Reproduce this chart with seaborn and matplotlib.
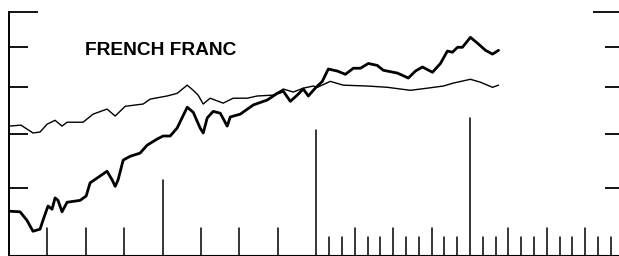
import numpy as np
import pandas as pd
import matplotlib
matplotlib.use("Agg")
import matplotlib.pyplot as plt
import seaborn as sns

# time in years from the left edge of the chart, values on a ratio scale
thick_t = [0.0, 0.072, 0.117, 0.156, 0.202, 0.221, 0.254, 0.280, 0.300, 0.319,
           0.345, 0.378, 0.463, 0.502, 0.528, 0.573, 0.638, 0.671, 0.691, 0.710,
           0.743, 0.788, 0.853, 0.899, 0.964, 1.003, 1.049, 1.094, 1.160, 1.199,
           1.244, 1.264, 1.290, 1.329, 1.375, 1.420, 1.440, 1.505, 1.590, 1.681,
           1.746, 1.785, 1.831, 1.876, 1.915, 1.948, 1.993, 2.039, 2.078, 2.137,
           2.189, 2.241, 2.287, 2.339, 2.397, 2.436, 2.528, 2.599, 2.645, 2.691,
           2.756, 2.808, 2.853, 2.886, 2.919, 2.951, 3.003, 3.049, 3.101, 3.147,
           3.186]
thick_v = [4.63, 4.62, 4.49, 4.33, 4.36, 4.49, 4.71, 4.66, 4.84, 4.80,
           4.62, 4.77, 4.80, 4.87, 5.09, 5.17, 5.29, 5.14, 5.03, 5.14,
           5.49, 5.56, 5.62, 5.77, 5.89, 5.95, 5.95, 6.11, 6.55, 6.44,
           6.11, 6.01, 6.32, 6.46, 6.42, 6.15, 6.34, 6.40, 6.60, 6.71,
           6.86, 6.91, 6.68, 6.82, 6.96, 6.80, 6.98, 7.14, 7.44, 7.39,
           7.31, 7.46, 7.46, 7.58, 7.53, 7.41, 7.34, 7.22, 7.39, 7.49,
           7.36, 7.58, 7.90, 7.87, 8.00, 8.00, 8.27, 8.11, 7.92, 7.82,
           7.92]

thin_t = [0.0, 0.078, 0.156, 0.202, 0.248, 0.300, 0.345, 0.378, 0.482, 0.547,
          0.638, 0.691, 0.756, 0.873, 0.919, 1.029, 1.094, 1.160, 1.199, 1.231,
          1.264, 1.309, 1.394, 1.459, 1.550, 1.616, 1.720, 1.785, 1.850, 1.915,
          1.980, 2.007, 2.091, 2.176, 2.332, 2.463, 2.612, 2.723, 2.827, 2.893,
          3.003, 3.068, 3.147, 3.186]
thin_v = [6.15, 6.17, 6.01, 6.03, 6.19, 6.27, 6.15, 6.23, 6.23, 6.40,
          6.51, 6.36, 6.57, 6.62, 6.73, 6.80, 6.86, 7.05, 6.93, 6.82,
          6.62, 6.75, 6.64, 6.75, 6.75, 6.80, 6.82, 6.96, 6.89, 6.98,
          7.03, 7.00, 7.14, 7.05, 7.03, 7.00, 6.93, 6.98, 7.03, 7.10,
          7.19, 7.12, 7.00, 7.05]

y_ticks = [5, 6, 7, 8, 9]
title = "FRENCH FRANC"

sns.set_style("white")
plt.rcParams["font.family"] = ["Liberation Sans", "DejaVu Sans"]

fig = plt.figure(figsize=(6.19, 2.56), dpi=100)
ax = fig.add_axes([9 / 619, 1 / 256, 1 - 9 / 619, 243 / 256])

thick = pd.DataFrame({"t": thick_t, "v": thick_v})
thin = pd.DataFrame({"t": thin_t, "v": thin_v})
sns.lineplot(data=thick, x="t", y="v", color="black", linewidth=2.0, ax=ax)
sns.lineplot(data=thin, x="t", y="v", color="black", linewidth=1.0, ax=ax)

ax.set_yscale("log")
ax.set_xlim(0, 3.97)
ax.set_ylim(4.0, 9.0)
ax.set_xticks([])
ax.set_yticks([])
ax.minorticks_off()
ax.set_xlabel("")
ax.set_ylabel("")

for side in ["top", "right"]:
    ax.spines[side].set_visible(False)
ax.spines["left"].set_linewidth(1.4)
ax.spines["bottom"].set_linewidth(0.8)
ax.spines["left"].set_color("black")
ax.spines["bottom"].set_color("black")

# scale marks on both sides
ytr = ax.get_yaxis_transform()
for v in y_ticks:
    long = v == y_ticks[-1]
    ax.plot([0, 0.0475 if long else 0.031], [v, v], color="black",
            lw=1.3, transform=ytr, clip_on=False, solid_capstyle="butt")
    ax.plot([0.957 if long else 0.977, 1.0], [v, v], color="black",
            lw=1.3, transform=ytr, clip_on=False, solid_capstyle="butt")

# time marks along the bottom: quarters first two years, then months
for q in np.arange(0.25, 2.0, 0.25):
    h = 0.309 if abs(q - 1.0) < 1e-6 else 0.111
    ax.axvline(q, ymin=0, ymax=h, color="black", lw=1.1)
for m in range(24, 48):
    t = m / 12
    if m == 24:
        h = 0.514
    elif m == 36:
        h = 0.564
    elif m % 3 == 0:
        h = 0.111
    else:
        h = 0.074
    ax.axvline(t, ymin=0, ymax=h, color="black", lw=1.1)

ax.text(0.124, 0.84, title, transform=ax.transAxes, fontsize=13.8,
        fontweight="bold", ha="left", va="center", color="black")

fig.savefig("out.png", dpi=100)
